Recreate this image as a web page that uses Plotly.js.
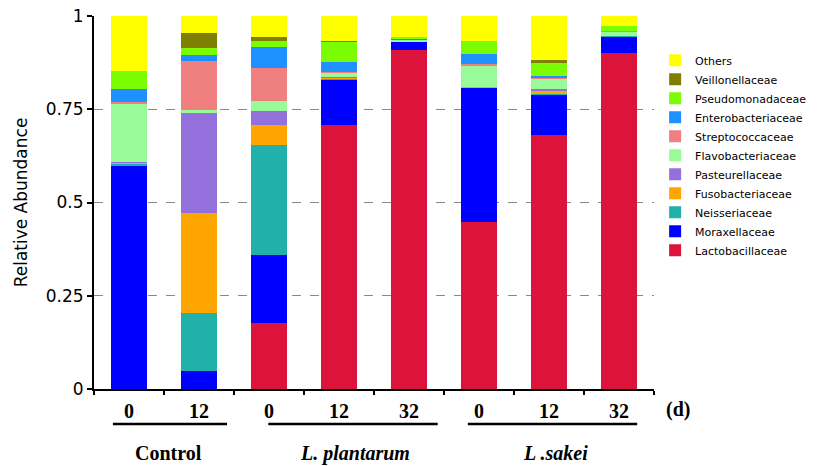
<!DOCTYPE html>
<html>
<head>
<meta charset="utf-8">
<script src="https://cdn.plot.ly/plotly-3.0.1.min.js"></script>
<style>html,body{margin:0;padding:0;background:#fff;}#chart{width:817px;height:466px;}</style>
</head>
<body>
<div id="chart"></div>
<script>
// Sample days (x tick labels) and groups
const days = ['0', '12', '0', '12', '32', '0', '12', '32'];
const groups = ['Control', 'Control', 'L. plantarum', 'L. plantarum', 'L. plantarum', 'L .sakei', 'L .sakei', 'L .sakei'];
const groupNames = ['Control', 'L. plantarum', 'L .sakei'];

// Relative abundance per family (bottom to top of stack)
const Lactobacillaceae   = [0.000, 0.000, 0.176, 0.709, 0.909, 0.448, 0.682, 0.900];
const Moraxellaceae      = [0.597, 0.048, 0.183, 0.120, 0.020, 0.358, 0.105, 0.045];
const Neisseriaceae      = [0.005, 0.156, 0.294, 0.002, 0.001, 0.001, 0.005, 0.002];
const Fusobacteriaceae   = [0.003, 0.269, 0.056, 0.002, 0.000, 0.002, 0.008, 0.000];
const Pasteurellaceae    = [0.003, 0.267, 0.037, 0.003, 0.000, 0.002, 0.005, 0.000];
const Flavobacteriaceae  = [0.155, 0.009, 0.027, 0.011, 0.006, 0.055, 0.025, 0.010];
const Streptococcaceae   = [0.006, 0.130, 0.087, 0.003, 0.000, 0.004, 0.005, 0.002];
const Enterobacteriaceae = [0.034, 0.017, 0.058, 0.026, 0.002, 0.027, 0.004, 0.001];
const Pseudomonadaceae   = [0.049, 0.019, 0.014, 0.054, 0.006, 0.035, 0.036, 0.014];
const Veillonellaceae    = [0.000, 0.040, 0.011, 0.003, 0.000, 0.000, 0.006, 0.000];
const Others             = [0.148, 0.045, 0.057, 0.067, 0.056, 0.068, 0.119, 0.026];

const familyNames = ['Lactobacillaceae', 'Moraxellaceae', 'Neisseriaceae', 'Fusobacteriaceae',
  'Pasteurellaceae', 'Flavobacteriaceae', 'Streptococcaceae', 'Enterobacteriaceae',
  'Pseudomonadaceae', 'Veillonellaceae', 'Others'];
const familyValues = [Lactobacillaceae, Moraxellaceae, Neisseriaceae, Fusobacteriaceae,
  Pasteurellaceae, Flavobacteriaceae, Streptococcaceae, Enterobacteriaceae,
  Pseudomonadaceae, Veillonellaceae, Others];
const familyColors = ['#DC143C', '#0000FF', '#20B2AA', '#FFA500', '#9370DB', '#98FB98',
  '#F08080', '#1E90FF', '#7CFC00', '#808000', '#FFFF00'];

const yTickVals = [0, 0.25, 0.5, 0.75, 1];
const yTickText = ['0', '0.25', '0.5', '0.75', '1'];

const xPos = days.map((d, i) => i);

const traces = familyNames.map((name, k) => ({
  type: 'bar',
  name: name,
  x: xPos,
  y: familyValues[k],
  marker: {color: familyColors[k], line: {width: 0}},
}));

// group label positions: mean of member indices
function groupCenter(g) {
  const idx = xPos.filter(i => groups[i] === g);
  return idx.reduce((a, b) => a + b, 0) / idx.length;
}
const groupSpan = {
  'Control': [-0.23, 1.40],
  'L. plantarum': [1.99, 4.41],
  'L .sakei': [4.84, 7.26]
};
const labelOffset = {'Control': 0.07, 'L. plantarum': 0.23, 'L .sakei': 0.09};

const serif = {family: 'Liberation Serif, Times New Roman, serif', size: 20, color: '#000', weight: 'bold'};

const annotations = groupNames.map(g => ({
  xref: 'x', yref: 'paper', x: groupCenter(g) + labelOffset[g], y: -0.172,
  text: g === 'Control' ? '<b>Control</b>' : '<b><i>' + g + '</i></b>',
  showarrow: false, font: serif, xanchor: 'center', yanchor: 'middle'
}));
annotations.push({
  xref: 'paper', yref: 'paper', x: 1.043, y: -0.054, text: '<b>(d)</b>',
  showarrow: false, font: serif, xanchor: 'center', yanchor: 'middle'
});

const shapes = groupNames.map(g => ({
  type: 'line', xref: 'x', yref: 'paper',
  x0: groupSpan[g][0], x1: groupSpan[g][1], y0: -0.094, y1: -0.094,
  line: {color: '#000', width: 2.5}
}));

const layout = {
  width: 817, height: 466,
  margin: {l: 94, r: 163, t: 16, b: 77, autoexpand: false},
  paper_bgcolor: '#fff', plot_bgcolor: '#fff',
  barmode: 'stack', bargap: 0.49,
  showlegend: true,
  legend: {
    traceorder: 'reversed', x: 1.002, xanchor: 'left', y: 0.92, yanchor: 'top',
    font: {family: 'DejaVu Sans, sans-serif', size: 11, color: '#000'},
    bgcolor: 'rgba(0,0,0,0)'
  },
  xaxis: {
    range: [-0.5, 7.5], showgrid: false, zeroline: false,
    showline: true, linecolor: '#000', linewidth: 2,
    tickmode: 'array', tickvals: xPos, ticktext: days, ticks: '', ticklabelstandoff: 3,
    tickfont: serif,
    minor: {tickmode: 'array', tickvals: [-0.5, 0.5, 1.5, 2.5, 3.5, 4.5, 5.5, 6.5, 7.5],
      ticks: 'outside', ticklen: 4, tickwidth: 2, tickcolor: '#000', showgrid: false}
  },
  yaxis: {
    range: [0, 1], showgrid: false, zeroline: false,
    showline: true, linecolor: '#000', linewidth: 2,
    tickmode: 'array', tickvals: yTickVals, ticktext: yTickText,
    ticks: 'outside', ticklen: 5, tickwidth: 2, tickcolor: '#000',
    tickfont: {family: 'DejaVu Sans, sans-serif', size: 17, color: '#000'},
    title: {text: 'Relative Abundance', font: {family: 'DejaVu Sans, sans-serif', size: 17, color: '#000'}, standoff: 14},
    minor: {tickmode: 'array', tickvals: [0.25, 0.5, 0.75], ticks: '', showgrid: true,
      gridcolor: '#888', gridwidth: 1, griddash: 'dash'}
  },
  annotations: annotations,
  shapes: shapes
};

Plotly.newPlot('chart', traces, layout, {displayModeBar: false, staticPlot: true});
</script>
</body>
</html>
